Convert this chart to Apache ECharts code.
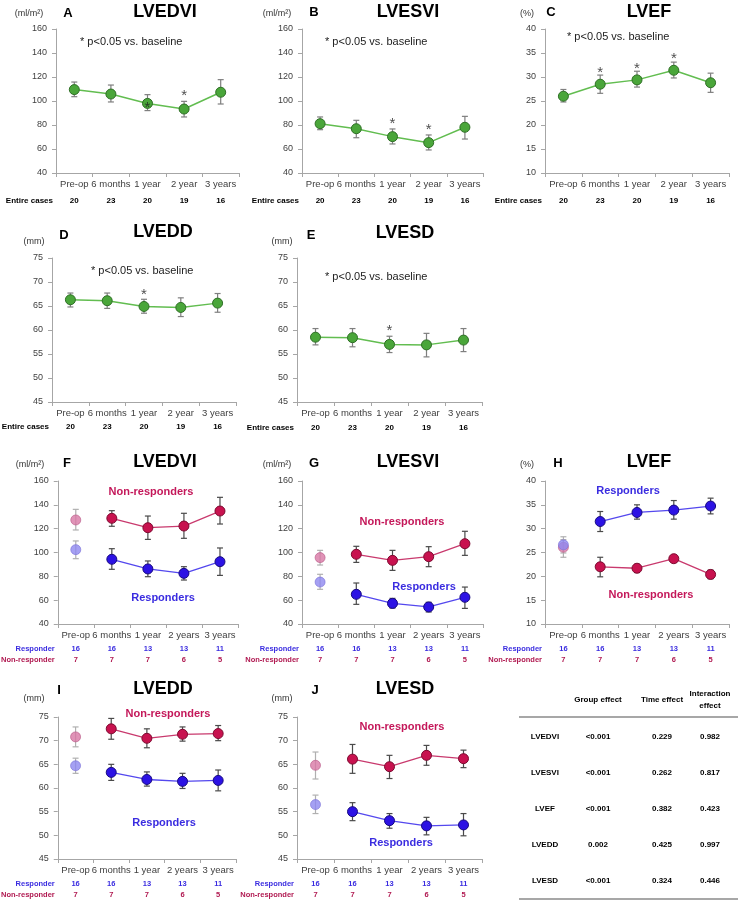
<!DOCTYPE html>
<html><head><meta charset="utf-8">
<script src="https://cdn.jsdelivr.net/npm/echarts@6/dist/echarts.min.js"></script>
<style>html,body{margin:0;padding:0;background:#fff}#c{width:738px;height:900px}</style>
</head><body><div id="c"></div>
<script>
// ---------- DATA ----------
const categories = ['Pre-op','6 months','1 year','2 year','3 years'];
const categoriesGroup = ['Pre-op','6 months','1 year','2 years','3 years'];
const entireCases = [20,23,20,19,16];
const responderN = [16,16,13,13,11];
const nonResponderN = [7,7,7,6,5];

// Entire cases (mean, lower, upper, asterisk position)
const aMean = [109.5,105.8,98.0,93.3,107.3];
const aLow  = [103.6,99.2,92.0,86.7,97.5];
const aHigh = [115.8,113.3,105.3,99.7,117.8];
const aStar = [null,null,98,108,null];

const bMean = [81.1,76.9,70.3,65.3,78.1];
const bLow  = [76.1,69.4,64.2,59.2,68.3];
const bHigh = [86.7,83.9,76.7,71.7,87.2];
const bStar = [null,null,84.4,79.4,null];

const cMean = [26.0,28.5,29.4,31.4,28.8];
const cLow  = [24.8,26.6,27.9,29.8,26.8];
const cHigh = [27.4,30.4,31.2,33.1,30.8];
const cStar = [null,31.7,32.5,34.7,null];

const dMean = [66.3,66.1,64.9,64.7,65.6];
const dLow  = [64.8,64.5,63.5,62.8,63.7];
const dHigh = [67.7,67.7,66.4,66.7,67.6];
const dStar = [null,null,68.2,null,null];

const eMean = [58.5,58.4,57.0,56.9,57.9];
const eLow  = [56.9,56.5,55.3,54.4,55.5];
const eHigh = [60.3,60.3,58.7,59.3,60.3];
const eStar = [null,null,60.7,null,null];

// Responders vs non-responders
const fNonMean = [127.3,128.7,120.8,122.2,134.8];
const fNonLow  = [118.9,122.0,111.0,111.9,123.9];
const fNonHigh = [136.2,135.1,130.6,132.9,146.3];
const fResMean = [102.4,94.3,86.2,82.5,92.3];
const fResLow  = [94.8,85.9,79.7,76.9,80.8];
const fResHigh = [109.7,103.2,92.9,88.1,103.8];

const gNonMean = [95.7,98.5,93.4,96.5,107.4];
const gNonLow  = [89.5,91.7,85.0,88.1,97.6];
const gNonHigh = [101.8,105.2,101.8,104.9,117.8];
const gResMean = [75.2,64.9,57.3,54.3,62.4];
const gResLow  = [69.1,56.5,53.4,50.1,53.1];
const gResHigh = [81.7,74.4,61.5,58.2,71.0];

const hNonMean = [26.1,22.0,21.7,23.7,20.4];
const hNonLow  = [24.0,19.9,20.8,23.4,19.5];
const hNonHigh = [27.7,24.0,22.5,24.0,21.3];
const hResMean = [26.6,31.5,33.4,33.9,34.75];
const hResLow  = [24.9,29.4,32.0,32.0,33.1];
const hResHigh = [28.3,33.6,35.0,35.9,36.4];

const iNonMean = [70.8,72.5,70.5,71.35,71.5];
const iNonLow  = [68.7,70.3,68.5,69.9,70.0];
const iNonHigh = [72.9,74.7,72.5,72.9,73.2];
const iResMean = [64.7,63.3,61.8,61.4,61.6];
const iResLow  = [63.1,61.6,60.4,59.9,59.4];
const iResHigh = [66.3,65.0,63.4,63.1,63.8];

const jNonMean = [64.8,66.1,64.5,66.9,66.2];
const jNonLow  = [61.9,63.1,62.0,64.8,64.3];
const jNonHigh = [67.6,69.2,66.9,69.0,68.0];
const jResMean = [56.5,55.0,53.1,52.0,52.2];
const jResLow  = [54.6,53.1,51.5,50.1,49.9];
const jResHigh = [58.5,56.9,54.6,53.8,54.6];

// Table
const tableHeaders = ['Group effect','Time effect','Interaction\neffect'];
const tableRows = ['LVEDVI','LVESVI','LVEF','LVEDD','LVESD'];
const groupEffect = ['<0.001','<0.001','<0.001','0.002','<0.001'];
const timeEffect = ['0.229','0.262','0.382','0.425','0.324'];
const interactionEffect = ['0.982','0.817','0.423','0.997','0.446'];

// ---------- LAYOUT / STYLE ----------
const FF = '"Liberation Sans", Arial, sans-serif';
const AX = '#a6a6a6';
const LBL = '#404040';
const GREEN = '#4aa63a', GREEN_B = '#2f6f26', GREEN_L = '#62bd50';
const NON = '#c8124f', NON_B = '#7d0a30', NON_L = '#c93a6e', NON_PRE = '#d878a5';
const RES = '#2c12e4', RES_B = '#170a80', RES_L = '#5448ee', RES_PRE = '#8f88f0';
const NON_TXT = '#c4185a', RES_TXT = '#3a2ce0';

const panels = [
  {type:'entire', letter:'A', title:'LVEDVI', unit:'(ml/m²)', mean:aMean, low:aLow, high:aHigh, star:aStar,
   y:[40,160,20], grid:{left:56,top:29,width:183,height:144}, L:[68,13], T:[165,12], U:[29,14], N:[80,42], off:28},
  {type:'entire', letter:'B', title:'LVESVI', unit:'(ml/m²)', mean:bMean, low:bLow, high:bHigh, star:bStar,
   y:[40,160,20], grid:{left:302,top:29,width:181,height:144}, L:[314,12], T:[408,12], U:[277,14], N:[325,42], off:28},
  {type:'entire', letter:'C', title:'LVEF', unit:'(%)', mean:cMean, low:cLow, high:cHigh, star:cStar,
   y:[10,40,5], grid:{left:545,top:29,width:184,height:144}, L:[551,12], T:[649,12], U:[527,14], N:[567,37], off:28},
  {type:'entire', letter:'D', title:'LVEDD', unit:'(mm)', mean:dMean, low:dLow, high:dHigh, star:dStar,
   y:[45,75,5], grid:{left:52,top:258,width:184,height:144}, L:[64,235], T:[163,232], U:[34,242], N:[91,271], off:25},
  {type:'entire', letter:'E', title:'LVESD', unit:'(mm)', mean:eMean, low:eLow, high:eHigh, star:eStar,
   y:[45,75,5], grid:{left:297,top:258,width:185,height:144}, L:[311,235], T:[405,233], U:[282,242], N:[325,277], off:26},
  {type:'group', letter:'F', title:'LVEDVI', unit:'(ml/m²)', non:[fNonMean,fNonLow,fNonHigh], res:[fResMean,fResLow,fResHigh],
   y:[40,160,20], grid:{left:56,top:481,width:182,height:143}, L:[67,463], T:[165,462], U:[30,465], NL:[151,492], RL:[163,598]},
  {type:'group', letter:'G', title:'LVESVI', unit:'(ml/m²)', non:[gNonMean,gNonLow,gNonHigh], res:[gResMean,gResLow,gResHigh],
   y:[40,160,20], grid:{left:302,top:481,width:181,height:143}, L:[314,463], T:[408,462], U:[277,465], NL:[402,522], RL:[424,587]},
  {type:'group', letter:'H', title:'LVEF', unit:'(%)', non:[hNonMean,hNonLow,hNonHigh], res:[hResMean,hResLow,hResHigh],
   y:[10,40,5], grid:{left:545,top:481,width:184,height:143}, L:[558,463], T:[649,462], U:[527,465], NL:[651,595], RL:[628,491]},
  {type:'group', letter:'I', title:'LVEDD', unit:'(mm)', non:[iNonMean,iNonLow,iNonHigh], res:[iResMean,iResLow,iResHigh],
   y:[45,75,5], grid:{left:52,top:717,width:184,height:142}, L:[59,690], T:[163,689], U:[34,699], NL:[168,714], RL:[164,823]},
  {type:'group', letter:'J', title:'LVESD', unit:'(mm)', non:[jNonMean,jNonLow,jNonHigh], res:[jResMean,jResLow,jResHigh],
   y:[45,75,5], grid:{left:297,top:717,width:185,height:142}, L:[315,690], T:[405,689], U:[282,699], NL:[402,727], RL:[401,843]}
];

function errRender(dark, light){
  return function(params, api){
    const i = api.value(0);
    const lo = api.coord([i, api.value(1)]);
    const hi = api.coord([i, api.value(2)]);
    const c = (light && i === 0) ? light : dark;
    const cap = 3;
    const st = {stroke:c, lineWidth:1.2};
    return {type:'group', children:[
      {type:'line', shape:{x1:lo[0],y1:lo[1],x2:hi[0],y2:hi[1]}, style:st},
      {type:'line', shape:{x1:lo[0]-cap,y1:lo[1],x2:lo[0]+cap,y2:lo[1]}, style:st},
      {type:'line', shape:{x1:hi[0]-cap,y1:hi[1],x2:hi[0]+cap,y2:hi[1]}, style:st}
    ]};
  };
}

function txt(x, y, text, font, fill, align){
  return {type:'text', x:x, y:y, silent:true, style:{text:text, font:font, fill:fill||'#000',
    textAlign:align||'center', textVerticalAlign:'middle', verticalAlign:'middle', align:align||'center'}};
}

const grids = [], xAxes = [], yAxes = [], series = [], graphics = [];

function countAxis(gi, data, name, off, color, fs){
  xAxes.push({type:'category', gridIndex:gi, position:'bottom', offset:off, data:data.map(String),
    axisLine:{show:false}, axisTick:{show:false}, splitLine:{show:false},
    axisLabel:{margin:0, verticalAlign:'middle', interval:0, fontSize:fs, fontWeight:'bold', color:color, fontFamily:FF},
    name:name, nameLocation:'start', nameGap:3,
    nameTextStyle:{fontSize:fs, fontWeight:'bold', color:color, fontFamily:FF, align:'right', verticalAlign:'middle'}});
}

panels.forEach((p, gi) => {
  grids.push(Object.assign({containLabel:false}, p.grid));
  const xi = xAxes.length;
  xAxes.push({type:'category', gridIndex:gi, data: p.type==='entire' ? categories : categoriesGroup, boundaryGap:true,
    axisLine:{lineStyle:{color:AX, width:1}}, axisTick:{show:true, length:4, lineStyle:{color:AX}},
    axisLabel:{fontSize:9.5, color:LBL, margin:6, interval:0, fontFamily:FF}, splitLine:{show:false}});
  if (p.type === 'entire') {
    countAxis(gi, entireCases, 'Entire cases', p.off, '#000', 8);
  } else {
    countAxis(gi, responderN, 'Responder', 25, RES_TXT, 7.5);
    countAxis(gi, nonResponderN, 'Non-responder', 36, '#b01850', 7.5);
  }
  yAxes.push({type:'value', gridIndex:gi, min:p.y[0], max:p.y[1], interval:p.y[2],
    axisLine:{show:true, lineStyle:{color:AX, width:1}}, axisTick:{show:true, length:4, lineStyle:{color:AX}},
    splitLine:{show:false}, axisLabel:{fontSize:9, color:LBL, margin:9, fontFamily:FF}});

  // texts
  graphics.push(txt(p.L[0], p.L[1], p.letter, 'bold 13px ' + FF));
  graphics.push(txt(p.T[0], p.T[1], p.title, 'bold 18px ' + FF));
  graphics.push(txt(p.U[0], p.U[1], p.unit, '9px ' + FF, '#333'));

  if (p.type === 'entire') {
    graphics.push(txt(p.N[0], p.N[1], '* p<0.05 vs. baseline', '11px ' + FF, '#222', 'left'));
    series.push({type:'custom', xAxisIndex:xi, yAxisIndex:gi, z:1, silent:true,
      renderItem: errRender('#7f7f7f'), encode:{x:0, y:[1,2]},
      data: p.mean.map((m,j)=>[j, p.low[j], p.high[j]])});
    series.push({type:'line', xAxisIndex:xi, yAxisIndex:gi, z:3, data:p.mean, symbol:'circle', symbolSize:10,
      itemStyle:{color:GREEN, borderColor:GREEN_B, borderWidth:1}, lineStyle:{color:GREEN_L, width:1.5}, silent:true});
    series.push({type:'scatter', xAxisIndex:xi, yAxisIndex:gi, z:4, symbolSize:1, itemStyle:{color:'rgba(0,0,0,0)'}, silent:true,
      data: p.star.map((v,j)=>[j,v]).filter(d=>d[1]!=null),
      label:{show:true, position:'inside', formatter:'*', fontSize:15, color:'#222', fontFamily:FF, offset:[0,4]}});
  } else {
    graphics.push(txt(p.NL[0], p.NL[1], 'Non-responders', 'bold 11px ' + FF, NON_TXT));
    graphics.push(txt(p.RL[0], p.RL[1], 'Responders', 'bold 11px ' + FF, RES_TXT));
    [[p.non, NON, NON_B, NON_L], [p.res, RES, RES_B, RES_L]].forEach(g => {
      const [m, lo, hi] = g[0];
      series.push({type:'custom', xAxisIndex:xi, yAxisIndex:gi, z:1, silent:true,
        renderItem: errRender('#4a4a4a', '#b0b0b0'), encode:{x:0, y:[1,2]},
        data: m.map((v,j)=>[j, lo[j], hi[j]])});
      series.push({type:'line', xAxisIndex:xi, yAxisIndex:gi, z:3, silent:true,
        data: m.map((v,j)=> j===0 ? null : v), connectNulls:false, symbol:'circle', symbolSize:10,
        itemStyle:{color:g[1], borderColor:g[2], borderWidth:1}, lineStyle:{color:g[3], width:1.3}});
    });
    series.push({type:'scatter', xAxisIndex:xi, yAxisIndex:gi, z:3, silent:true, symbolSize:10,
      data:[{value:[0, p.non[0][0]], itemStyle:{color:NON_PRE, borderColor:'#b85a88', borderWidth:0.8}},
            {value:[0, p.res[0][0]], itemStyle:{color:RES_PRE, borderColor:'#7a72d8', borderWidth:0.8}}]});
  }
});

// Table
const colX = [545, 598, 662, 710];
graphics.push(txt(colX[1], 700, tableHeaders[0], 'bold 8px ' + FF));
graphics.push(txt(colX[2], 700, tableHeaders[1], 'bold 8px ' + FF));
graphics.push(txt(colX[3], 694, 'Interaction', 'bold 8px ' + FF));
graphics.push(txt(colX[3], 706, 'effect', 'bold 8px ' + FF));
graphics.push({type:'line', silent:true, shape:{x1:519,y1:717,x2:738,y2:717}, style:{stroke:'#8a8a8a', lineWidth:1.5}});
graphics.push({type:'line', silent:true, shape:{x1:519,y1:899,x2:738,y2:899}, style:{stroke:'#8a8a8a', lineWidth:1.5}});
const rowY = [737, 773, 809, 845, 881];
tableRows.forEach((r, k) => {
  graphics.push(txt(colX[0], rowY[k], r, 'bold 8px ' + FF));
  graphics.push(txt(colX[1], rowY[k], groupEffect[k], 'bold 8px ' + FF));
  graphics.push(txt(colX[2], rowY[k], timeEffect[k], 'bold 8px ' + FF));
  graphics.push(txt(colX[3], rowY[k], interactionEffect[k], 'bold 8px ' + FF));
});

const chart = echarts.init(document.getElementById('c'), null, {renderer:'canvas', width:738, height:900});
chart.setOption({
  animation:false,
  backgroundColor:'#fff',
  textStyle:{fontFamily:FF},
  grid:grids, xAxis:xAxes, yAxis:yAxes, series:series, graphic:graphics
});
</script>
</body></html>
